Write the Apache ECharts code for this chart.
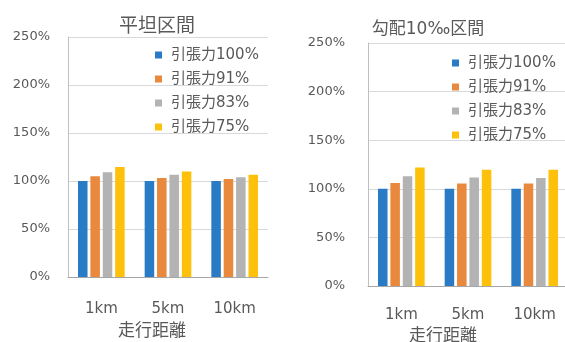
<!DOCTYPE html>
<html>
<head>
<meta charset="utf-8">
<script src="https://cdn.jsdelivr.net/npm/echarts@6/dist/echarts.min.js"></script>
<style>
  html, body { margin: 0; padding: 0; background: #fff; }
  #chart { width: 565px; height: 342px; }
</style>
</head>
<body>
<div id="chart"></div>
<script>
// Travel distances on the x axis
const categories = ['1km', '5km', '10km'];
// Tractive-force settings shown in the legend
const seriesNames = ['引張力100%', '引張力91%', '引張力83%', '引張力75%'];
const seriesColors = ['#2a7bc5', '#e8893d', '#b3b3b3', '#fdc10b'];
// Relative values (%) on the flat section
const flatValues = [
  [100, 100, 100],
  [105, 103, 102],
  [109, 106.5, 104],
  [114.5, 110, 106.5]
];
// Relative values (%) on the 10‰ gradient section
const gradeValues = [
  [100, 100, 100],
  [106, 105.5, 105.5],
  [113, 111.5, 111],
  [122, 119.5, 119.5]
];
const yTicks = { min: 0, max: 250, interval: 50 };
const panelTitles = ['平坦区間', '勾配10‰区間'];
const xAxisName = '走行距離';

const textColor = '#595959';
const font = 'DejaVu Sans, "Noto Sans CJK JP", sans-serif';

function yAxis(gridIndex, margin) {
  return {
    type: 'value', gridIndex,
    min: yTicks.min, max: yTicks.max, interval: yTicks.interval,
    axisLine: { show: true, lineStyle: { color: '#bfbfbf', width: 1 } },
    axisTick: { show: false },
    splitLine: { lineStyle: { color: '#d9d9d9', width: 1 } },
    axisLabel: { formatter: '{value}%', color: textColor, fontSize: 13, fontFamily: font, margin }
  };
}

function xAxis(gridIndex, labelMargin, nameGap, namePad) {
  return {
    type: 'category', gridIndex, data: categories,
    axisLine: { lineStyle: { color: '#a6a6a6', width: 1 } },
    axisTick: { show: false },
    axisLabel: { color: textColor, fontSize: 15, fontFamily: font, margin: labelMargin },
    name: xAxisName, nameLocation: 'middle', nameGap,
    nameTextStyle: { color: textColor, fontSize: 17, fontFamily: font, padding: namePad }
  };
}

function legend(left, top) {
  return {
    orient: 'vertical', left, top,
    icon: 'rect', itemWidth: 7, itemHeight: 7, itemGap: 8,
    data: seriesNames,
    textStyle: { color: textColor, fontSize: 15, lineHeight: 16, fontFamily: font, padding: [0, 0, 0, 4] }
  };
}

const series = [];
[flatValues, gradeValues].forEach((values, panel) => {
  values.forEach((vals, i) => {
    series.push({
      type: 'bar', name: seriesNames[i],
      xAxisIndex: panel, yAxisIndex: panel,
      data: vals,
      itemStyle: { color: seriesColors[i] },
      barGap: '30%', barCategoryGap: '30%'
    });
  });
});

const chart = echarts.init(document.getElementById('chart'), null, { renderer: 'canvas' });
chart.setOption({
  animation: false,
  backgroundColor: '#fff',
  color: seriesColors,
  title: [
    { text: panelTitles[0], left: 152, top: 13, textAlign: 'center',
      textStyle: { color: textColor, fontSize: 19, fontWeight: 'normal', fontFamily: font } },
    { text: panelTitles[1], left: 423, top: 16, textAlign: 'center',
      textStyle: { color: textColor, fontSize: 17, fontWeight: 'normal', fontFamily: font } }
  ],
  legend: [legend(150, 42), legend(447, 50)],
  grid: [
    { left: 68, top: 37, width: 200, height: 240, outerBoundsMode: 'none' },
    { left: 368, top: 43, width: 200, height: 243, outerBoundsMode: 'none' }
  ],
  xAxis: [xAxis(0, 25, 46, [0, 32, 0, 0]), xAxis(1, 22, 39, [0, 50, 0, 0])],
  yAxis: [yAxis(0, 18), yAxis(1, 23)],
  series
});
</script>
</body>
</html>
